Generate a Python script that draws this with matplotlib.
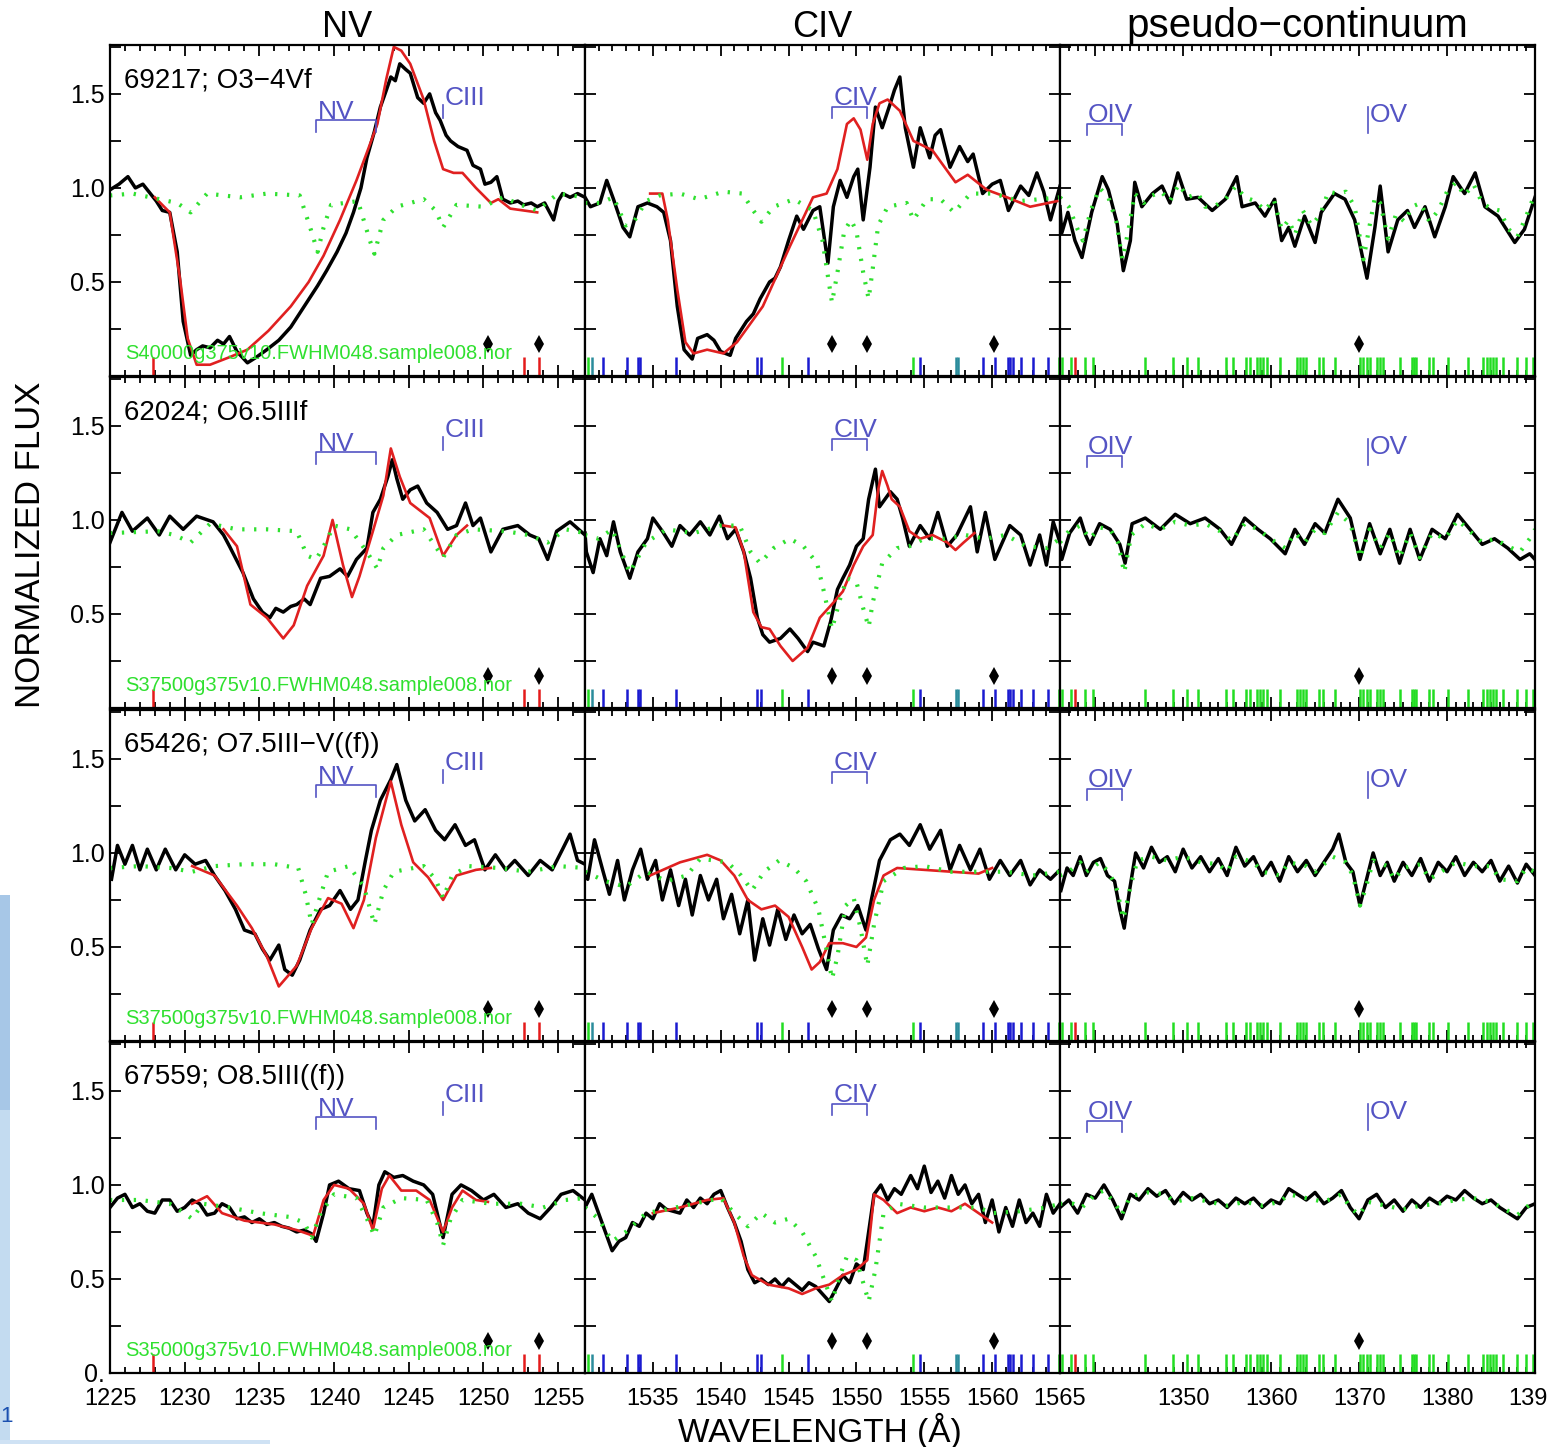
import numpy as np
import matplotlib
matplotlib.use("Agg")
import matplotlib.pyplot as plt
from matplotlib.patches import Rectangle
from matplotlib.ticker import MultipleLocator, FixedLocator

# ---------------- data (wavelength, normalized flux) ----------------
# row 1: 69217
nv1_obs = [(1225.0, 0.99), (1225.6, 1.02), (1226.2, 1.06), (1226.7, 1.00), (1227.2, 1.02), (1227.7, 0.97),
           (1228.1, 0.93), (1228.5, 0.88), (1229.0, 0.87), (1229.5, 0.66), (1229.9, 0.29), (1230.4, 0.11),
           (1230.8, 0.14), (1231.2, 0.16), (1231.7, 0.15), (1232.2, 0.19), (1232.6, 0.17), (1233.0, 0.21),
           (1233.5, 0.13), (1234.2, 0.07), (1234.8, 0.10), (1235.5, 0.14), (1236.3, 0.19), (1237.1, 0.26),
           (1238.0, 0.37), (1238.9, 0.48), (1239.5, 0.56), (1240.2, 0.66), (1240.8, 0.76), (1241.3, 0.87),
           (1241.8, 1.00), (1242.2, 1.16), (1242.7, 1.30), (1243.1, 1.43), (1243.5, 1.52), (1243.8, 1.59),
           (1244.1, 1.57), (1244.4, 1.66), (1244.8, 1.63), (1245.1, 1.61), (1245.6, 1.48), (1246.0, 1.45),
           (1246.4, 1.50), (1246.8, 1.40), (1247.1, 1.36), (1247.5, 1.28), (1247.8, 1.25), (1248.3, 1.22),
           (1248.9, 1.20), (1249.3, 1.12), (1249.8, 1.10), (1250.1, 1.02), (1250.5, 1.03), (1250.9, 1.06),
           (1251.3, 0.94), (1251.8, 0.92), (1252.3, 0.93), (1252.7, 0.91), (1253.2, 0.92), (1253.6, 0.90),
           (1254.1, 0.92), (1254.7, 0.83), (1255.0, 0.93), (1255.3, 0.97), (1255.8, 0.95), (1256.3, 0.97),
           (1256.8, 0.95)]
nv1_mod = [(1228.0, 0.95), (1229.0, 0.87), (1229.7, 0.51), (1230.2, 0.20), (1230.8, 0.06), (1231.7, 0.06),
           (1233.0, 0.10), (1234.2, 0.14), (1235.6, 0.24), (1237.1, 0.37), (1238.3, 0.50), (1239.3, 0.64),
           (1240.4, 0.83), (1241.5, 1.04), (1242.3, 1.21), (1242.9, 1.34), (1243.5, 1.58), (1244.0, 1.75),
           (1244.5, 1.73), (1245.1, 1.66), (1246.0, 1.47), (1246.7, 1.25), (1247.3, 1.10), (1248.0, 1.08),
           (1248.6, 1.08), (1249.5, 1.00), (1250.5, 0.92), (1251.0, 0.94), (1251.8, 0.89), (1253.6, 0.87)]
nv1_syn = [(1225.0, 0.96), (1226.5, 0.97), (1228.3, 0.94), (1229.5, 0.92), (1230.4, 0.87), (1231.5, 0.97),
           (1233.7, 0.95), (1235.5, 0.97), (1237.7, 0.96), (1238.4, 0.79), (1238.9, 0.66), (1239.3, 0.79),
           (1239.8, 0.91), (1241.6, 0.93), (1242.4, 0.72), (1242.7, 0.65), (1243.3, 0.83), (1244.2, 0.90),
           (1246.0, 0.94), (1246.8, 0.88), (1247.3, 0.79), (1248.2, 0.91), (1250.0, 0.90), (1251.3, 0.95),
           (1252.5, 0.91), (1253.6, 0.88), (1255.0, 0.97), (1256.8, 0.95)]

civ1_obs = [(1530.0, 0.95), (1530.4, 0.90), (1531.1, 0.92), (1531.6, 1.04), (1532.1, 0.94), (1532.8, 0.79),
            (1533.3, 0.74), (1533.9, 0.90), (1534.6, 0.92), (1535.3, 0.90), (1535.8, 0.87), (1536.3, 0.72),
            (1536.8, 0.37), (1537.3, 0.14), (1537.9, 0.09), (1538.3, 0.20), (1539.0, 0.22), (1539.5, 0.19),
            (1540.0, 0.13), (1540.7, 0.11), (1541.1, 0.20), (1541.9, 0.29), (1542.4, 0.33), (1542.9, 0.41),
            (1543.6, 0.50), (1544.0, 0.52), (1544.4, 0.58), (1545.0, 0.72), (1545.6, 0.85), (1546.1, 0.78),
            (1546.8, 0.88), (1547.3, 0.90), (1547.9, 0.60), (1548.3, 0.90), (1548.8, 1.04), (1549.3, 0.95),
            (1549.8, 1.06), (1550.1, 1.10), (1550.5, 0.83), (1551.0, 1.11), (1551.4, 1.43), (1551.9, 1.32),
            (1552.5, 1.45), (1552.8, 1.52), (1553.2, 1.59), (1553.6, 1.32), (1554.2, 1.11), (1554.7, 1.32),
            (1555.4, 1.16), (1555.8, 1.28), (1556.2, 1.31), (1556.9, 1.11), (1557.6, 1.22), (1558.2, 1.14),
            (1558.6, 1.18), (1559.3, 0.97), (1560.0, 1.02), (1560.6, 1.04), (1561.2, 0.88), (1562.1, 1.01),
            (1562.7, 0.96), (1563.3, 1.08), (1563.8, 0.98), (1564.3, 0.83), (1565.0, 1.01)]
civ1_mod = [(1534.8, 0.97), (1535.7, 0.97), (1536.1, 0.83), (1536.8, 0.46), (1537.4, 0.18), (1538.0, 0.12),
            (1539.0, 0.14), (1540.2, 0.12), (1541.2, 0.18), (1543.1, 0.37), (1545.1, 0.69), (1546.8, 0.95),
            (1547.8, 0.97), (1548.6, 1.10), (1549.3, 1.34), (1549.8, 1.37), (1550.3, 1.31), (1550.8, 1.15),
            (1551.2, 1.34), (1551.7, 1.45), (1552.3, 1.47), (1553.2, 1.41), (1554.2, 1.25), (1555.6, 1.20),
            (1557.3, 1.03), (1558.2, 1.07), (1559.6, 0.99), (1561.1, 0.95), (1562.8, 0.90), (1564.8, 0.93)]
civ1_syn = [(1530.0, 0.92), (1531.1, 0.92), (1532.1, 0.95), (1533.0, 0.80), (1533.6, 0.82), (1534.5, 0.93),
            (1535.5, 0.96), (1537.0, 0.97), (1538.4, 0.94), (1540.2, 0.98), (1541.6, 0.97), (1542.4, 0.88),
            (1543.0, 0.82), (1543.9, 0.90), (1545.4, 0.94), (1546.8, 0.88), (1547.5, 0.72), (1547.9, 0.53),
            (1548.2, 0.39), (1548.6, 0.55), (1549.1, 0.77), (1549.6, 0.83), (1550.0, 0.77), (1550.5, 0.55),
            (1550.9, 0.41), (1551.2, 0.57), (1551.6, 0.80), (1552.3, 0.90), (1553.7, 0.92), (1554.2, 0.83),
            (1555.2, 0.94), (1556.2, 0.94), (1557.2, 0.87), (1558.4, 0.97), (1560.1, 0.97), (1562.0, 0.93),
            (1565.0, 0.95)]

pc1_obs = [(1336.0, 0.90), (1336.2, 0.76), (1336.9, 0.87), (1337.7, 0.72), (1338.5, 0.63), (1339.6, 0.87),
           (1340.8, 1.06), (1341.5, 0.99), (1342.5, 0.81), (1343.2, 0.56), (1344.0, 0.72), (1344.5, 1.03),
           (1345.3, 0.90), (1346.5, 0.97), (1347.6, 1.01), (1348.5, 0.92), (1349.4, 1.08), (1350.4, 0.94),
           (1351.7, 0.95), (1353.3, 0.88), (1354.8, 0.94), (1356.1, 1.06), (1356.7, 0.90), (1358.2, 0.92),
           (1359.3, 0.85), (1360.4, 0.94), (1361.2, 0.72), (1362.0, 0.79), (1362.7, 0.69), (1363.8, 0.85),
           (1365.0, 0.71), (1365.7, 0.87), (1367.2, 0.97), (1368.4, 0.94), (1369.5, 0.83), (1370.9, 0.52),
           (1371.8, 0.79), (1372.4, 1.01), (1373.3, 0.66), (1374.4, 0.83), (1375.5, 0.88), (1376.3, 0.79),
           (1377.5, 0.90), (1378.6, 0.74), (1379.8, 0.90), (1380.7, 1.06), (1382.0, 0.97), (1383.2, 1.08),
           (1384.3, 0.90), (1385.8, 0.85), (1387.7, 0.71), (1388.8, 0.78), (1390.0, 0.95)]
pc1_syn = [(1336.0, 0.95), (1337.0, 0.90), (1338.0, 0.78), (1338.6, 0.72), (1339.5, 0.88), (1340.5, 1.00),
           (1341.5, 0.95), (1342.4, 0.82), (1343.1, 0.62), (1343.8, 0.78), (1344.5, 0.97), (1345.5, 0.92),
           (1346.5, 0.96), (1347.5, 0.98), (1348.5, 0.93), (1349.5, 1.02), (1350.5, 0.95), (1351.7, 0.97),
           (1352.5, 0.90), (1353.5, 0.90), (1354.8, 0.94), (1356.0, 1.01), (1357.0, 0.95), (1358.2, 0.93),
           (1359.3, 0.88), (1360.3, 0.94), (1361.2, 0.78), (1362.0, 0.83), (1362.7, 0.75), (1363.6, 0.88),
           (1364.6, 0.80), (1365.6, 0.86), (1366.5, 0.98), (1367.5, 0.97), (1368.5, 0.98), (1369.5, 0.90),
           (1370.5, 0.62), (1371.2, 0.80), (1371.8, 0.95), (1372.4, 0.92), (1373.3, 0.73), (1374.2, 0.86),
           (1375.2, 0.82), (1376.0, 0.90), (1377.0, 0.92), (1378.0, 0.82), (1379.0, 0.88), (1380.0, 0.98),
           (1381.0, 1.03), (1382.0, 0.96), (1383.0, 1.02), (1384.0, 0.92), (1385.0, 0.89), (1386.0, 0.88),
           (1387.0, 0.78), (1388.0, 0.74), (1389.0, 0.85), (1390.0, 0.97)]

# row 2: 62024
nv2_obs = [(1225.0, 0.88), (1225.8, 1.04), (1226.5, 0.94), (1227.5, 1.01), (1228.3, 0.92), (1229.0, 1.02),
           (1229.9, 0.95), (1230.8, 1.02), (1231.9, 0.99), (1232.6, 0.92), (1233.0, 0.86), (1233.9, 0.72),
           (1234.6, 0.58), (1235.2, 0.51), (1235.7, 0.48), (1236.1, 0.53), (1236.6, 0.51), (1237.1, 0.54),
           (1237.5, 0.55), (1238.0, 0.58), (1238.4, 0.55), (1239.1, 0.69), (1239.7, 0.70), (1240.4, 0.74),
           (1240.9, 0.70), (1241.5, 0.79), (1242.2, 0.85), (1242.6, 1.04), (1243.1, 1.11), (1243.6, 1.23),
           (1243.9, 1.32), (1244.2, 1.22), (1244.6, 1.11), (1245.1, 1.16), (1245.6, 1.18), (1246.2, 1.09),
           (1246.9, 1.04), (1247.6, 0.95), (1248.2, 0.97), (1248.8, 1.09), (1249.3, 0.97), (1249.8, 1.01),
           (1250.5, 0.83), (1251.3, 0.95), (1252.3, 0.97), (1253.1, 0.92), (1253.7, 0.90), (1254.3, 0.79),
           (1254.9, 0.94), (1255.8, 0.99), (1256.8, 0.92)]
nv2_mod = [(1232.6, 0.95), (1233.5, 0.86), (1234.4, 0.55), (1235.5, 0.48), (1236.6, 0.37), (1237.3, 0.44),
           (1238.2, 0.65), (1239.3, 0.81), (1239.9, 1.00), (1240.6, 0.76), (1241.2, 0.59), (1241.7, 0.70),
           (1242.6, 0.94), (1243.3, 1.13), (1243.8, 1.38), (1244.4, 1.23), (1245.1, 1.09), (1246.4, 1.01),
           (1247.3, 0.81), (1248.2, 0.92), (1248.9, 0.97)]
nv2_syn = [(1225.0, 0.93), (1228.2, 0.94), (1229.3, 0.92), (1230.4, 0.88), (1231.7, 0.98), (1233.5, 0.95),
           (1235.5, 0.95), (1237.5, 0.94), (1238.2, 0.81), (1238.8, 0.79), (1239.3, 0.86), (1240.0, 0.97),
           (1241.1, 0.95), (1242.2, 0.83), (1242.9, 0.74), (1243.3, 0.85), (1244.2, 0.92), (1246.0, 0.95),
           (1247.3, 0.80), (1248.2, 0.92), (1249.3, 0.95), (1251.5, 0.94), (1253.0, 0.92), (1254.3, 0.88),
           (1255.5, 0.95), (1256.8, 0.93)]

civ2_obs = [(1530.0, 0.93), (1530.1, 0.83), (1530.6, 0.72), (1531.1, 0.90), (1531.6, 0.81), (1532.1, 0.99),
            (1532.6, 0.83), (1533.3, 0.69), (1533.9, 0.83), (1534.6, 0.90), (1535.0, 1.01), (1535.7, 0.94),
            (1536.4, 0.86), (1537.0, 0.97), (1537.7, 0.92), (1538.5, 0.99), (1539.2, 0.92), (1539.9, 1.02),
            (1540.5, 0.90), (1541.1, 0.95), (1541.7, 0.83), (1542.2, 0.69), (1542.7, 0.48), (1543.1, 0.39),
            (1543.6, 0.35), (1544.4, 0.37), (1545.1, 0.42), (1545.7, 0.37), (1546.4, 0.30), (1546.8, 0.35),
            (1547.6, 0.33), (1548.1, 0.46), (1548.6, 0.63), (1549.0, 0.69), (1549.5, 0.76), (1550.0, 0.86),
            (1550.5, 0.90), (1550.9, 1.11), (1551.4, 1.27), (1551.7, 1.07), (1552.5, 1.15), (1553.0, 1.11),
            (1553.4, 1.01), (1553.9, 0.86), (1554.7, 0.97), (1555.4, 0.90), (1556.0, 1.04), (1556.7, 0.86),
            (1557.4, 0.92), (1558.4, 1.07), (1558.9, 0.83), (1559.5, 1.04), (1560.2, 0.79), (1561.3, 0.97),
            (1562.1, 0.92), (1562.8, 0.76), (1563.5, 0.92), (1564.0, 0.76), (1564.5, 0.99), (1565.0, 0.88)]
civ2_mod = [(1540.2, 0.97), (1541.1, 0.96), (1541.7, 0.83), (1542.4, 0.51), (1543.0, 0.43), (1543.6, 0.42),
            (1544.4, 0.33), (1545.3, 0.25), (1546.4, 0.32), (1547.3, 0.48), (1548.3, 0.56), (1549.0, 0.62),
            (1549.8, 0.76), (1550.5, 0.86), (1551.2, 0.92), (1551.6, 1.16), (1551.9, 1.26), (1552.3, 1.18),
            (1552.6, 1.11), (1553.2, 1.07), (1553.9, 0.94), (1554.7, 0.90), (1555.6, 0.92), (1556.7, 0.88),
            (1557.3, 0.84), (1557.9, 0.88), (1558.7, 0.93)]
civ2_syn = [(1530.0, 0.92), (1531.0, 0.90), (1532.0, 0.95), (1533.3, 0.72), (1534.5, 0.88), (1536.0, 0.95),
            (1538.0, 0.93), (1540.0, 0.97), (1541.4, 0.97), (1542.2, 0.83), (1542.9, 0.77), (1543.9, 0.85),
            (1545.1, 0.90), (1546.1, 0.86), (1547.1, 0.77), (1547.6, 0.62), (1548.2, 0.42), (1548.8, 0.58),
            (1549.3, 0.69), (1550.0, 0.67), (1550.5, 0.53), (1550.9, 0.43), (1551.2, 0.56), (1551.9, 0.77),
            (1553.0, 0.85), (1553.9, 0.86), (1555.0, 0.90), (1556.5, 0.90), (1558.0, 0.92), (1559.5, 0.90),
            (1561.0, 0.92), (1562.5, 0.86), (1564.0, 0.85), (1565.0, 0.90)]

pc2_obs = [(1336.0, 0.85), (1336.2, 0.79), (1337.1, 0.93), (1338.3, 1.01), (1338.9, 0.92), (1339.4, 0.87),
           (1340.5, 0.98), (1341.7, 0.95), (1342.8, 0.87), (1343.4, 0.77), (1344.2, 0.98), (1345.7, 1.01),
           (1347.4, 0.95), (1349.1, 1.03), (1350.8, 0.98), (1352.5, 1.01), (1354.2, 0.95), (1355.5, 0.87),
           (1357.0, 1.01), (1358.5, 0.95), (1359.9, 0.90), (1361.6, 0.82), (1362.7, 0.95), (1363.8, 0.87),
           (1365.0, 0.98), (1366.1, 0.93), (1367.6, 1.11), (1369.0, 1.01), (1370.1, 0.79), (1371.2, 0.98),
           (1372.4, 0.82), (1373.5, 0.95), (1374.6, 0.77), (1375.8, 0.95), (1376.9, 0.79), (1378.3, 0.95),
           (1379.8, 0.90), (1381.2, 1.03), (1382.6, 0.95), (1384.0, 0.87), (1385.4, 0.90), (1386.9, 0.85),
           (1388.3, 0.79), (1389.4, 0.82), (1390.0, 0.79)]
pc2_syn = [(1336.0, 0.88), (1337.0, 0.94), (1338.3, 0.97), (1339.4, 0.90), (1340.5, 0.96), (1341.7, 0.95),
           (1342.6, 0.88), (1343.3, 0.72), (1344.1, 0.92), (1345.7, 0.98), (1347.4, 0.95), (1349.1, 0.99),
           (1350.8, 0.97), (1352.5, 0.98), (1354.2, 0.94), (1355.5, 0.89), (1357.0, 0.98), (1358.5, 0.95),
           (1359.9, 0.90), (1361.6, 0.85), (1362.7, 0.93), (1363.8, 0.88), (1365.0, 0.95), (1366.1, 0.93),
           (1367.6, 1.04), (1369.0, 0.98), (1370.1, 0.80), (1371.2, 0.95), (1372.4, 0.85), (1373.5, 0.93),
           (1374.6, 0.80), (1375.8, 0.93), (1376.9, 0.80), (1378.3, 0.93), (1379.8, 0.90), (1381.2, 1.00),
           (1382.6, 0.94), (1384.0, 0.88), (1385.4, 0.90), (1386.9, 0.86), (1388.3, 0.83), (1389.4, 0.90),
           (1390.0, 0.95)]

# row 3: 65426
nv3_obs = [(1225.1, 0.86), (1225.5, 1.04), (1226.0, 0.94), (1226.5, 1.04), (1227.0, 0.91), (1227.5, 1.02),
           (1228.1, 0.91), (1228.7, 1.02), (1229.4, 0.91), (1230.0, 0.99), (1230.7, 0.94), (1231.4, 0.96),
           (1232.0, 0.88), (1232.7, 0.80), (1233.4, 0.70), (1234.0, 0.59), (1234.7, 0.57), (1235.2, 0.49),
           (1235.7, 0.43), (1236.3, 0.51), (1236.7, 0.38), (1237.2, 0.35), (1237.7, 0.43), (1238.4, 0.59),
           (1239.1, 0.70), (1239.7, 0.72), (1240.4, 0.80), (1241.1, 0.70), (1241.6, 0.75), (1242.1, 0.96),
           (1242.5, 1.12), (1243.1, 1.28), (1243.8, 1.39), (1244.2, 1.47), (1244.8, 1.28), (1245.4, 1.17),
           (1246.1, 1.23), (1246.8, 1.12), (1247.4, 1.07), (1248.1, 1.15), (1248.8, 1.04), (1249.4, 1.07),
           (1250.1, 0.91), (1250.8, 0.99), (1251.5, 0.91), (1252.1, 0.96), (1253.0, 0.88), (1253.8, 0.96),
           (1254.6, 0.91), (1255.3, 1.02), (1255.8, 1.10), (1256.3, 0.96), (1256.8, 0.94)]
nv3_mod = [(1230.5, 0.93), (1232.0, 0.88), (1233.5, 0.72), (1234.5, 0.60), (1235.5, 0.45), (1236.3, 0.29),
           (1237.5, 0.40), (1238.5, 0.60), (1239.6, 0.76), (1240.5, 0.73), (1241.3, 0.60), (1242.0, 0.75),
           (1242.8, 1.08), (1243.8, 1.38), (1244.5, 1.15), (1245.3, 0.95), (1246.3, 0.87), (1247.3, 0.75),
           (1248.2, 0.88), (1249.5, 0.91), (1250.5, 0.92)]
nv3_syn = [(1225.0, 0.92), (1227.0, 0.93), (1229.0, 0.92), (1230.5, 0.90), (1232.0, 0.93), (1234.0, 0.94),
           (1236.0, 0.94), (1237.6, 0.92), (1238.1, 0.78), (1238.5, 0.62), (1239.0, 0.75), (1239.6, 0.90),
           (1241.0, 0.93), (1242.0, 0.82), (1242.7, 0.62), (1243.3, 0.80), (1244.0, 0.90), (1246.0, 0.93),
           (1246.8, 0.86), (1247.3, 0.76), (1247.9, 0.88), (1249.0, 0.93), (1251.0, 0.92), (1253.0, 0.90),
           (1255.0, 0.93), (1256.8, 0.92)]

civ3_obs = [(1530.0, 0.88), (1530.2, 0.86), (1530.7, 1.07), (1531.3, 0.91), (1531.8, 0.78), (1532.4, 0.96),
            (1532.9, 0.75), (1533.5, 0.91), (1534.1, 1.02), (1534.6, 0.86), (1535.2, 0.96), (1535.7, 0.75),
            (1536.3, 0.91), (1536.9, 0.72), (1537.4, 0.86), (1537.9, 0.67), (1538.5, 0.88), (1539.1, 0.75),
            (1539.7, 0.86), (1540.2, 0.65), (1540.8, 0.78), (1541.4, 0.57), (1542.0, 0.75), (1542.5, 0.43),
            (1543.1, 0.65), (1543.6, 0.51), (1544.2, 0.70), (1544.8, 0.54), (1545.4, 0.67), (1546.0, 0.57),
            (1546.6, 0.62), (1547.2, 0.49), (1547.8, 0.38), (1548.3, 0.59), (1548.9, 0.67), (1549.5, 0.65),
            (1550.1, 0.72), (1550.7, 0.59), (1551.1, 0.75), (1551.7, 0.96), (1552.5, 1.07), (1553.2, 1.10),
            (1553.9, 1.04), (1554.7, 1.15), (1555.4, 1.02), (1556.2, 1.12), (1556.9, 0.91), (1557.6, 1.04),
            (1558.4, 0.91), (1559.1, 1.02), (1559.8, 0.86), (1560.6, 0.96), (1561.3, 0.88), (1562.1, 0.96),
            (1562.8, 0.83), (1563.5, 0.91), (1564.3, 0.86), (1565.0, 0.91)]
civ3_mod = [(1534.8, 0.88), (1537.0, 0.95), (1539.0, 0.99), (1540.0, 0.96), (1541.0, 0.88), (1542.0, 0.75),
            (1543.0, 0.70), (1544.0, 0.72), (1545.0, 0.66), (1546.0, 0.50), (1546.7, 0.38), (1547.3, 0.42),
            (1548.0, 0.52), (1549.0, 0.52), (1550.0, 0.50), (1550.7, 0.55), (1551.3, 0.75), (1552.0, 0.88),
            (1553.0, 0.92), (1555.0, 0.91), (1557.0, 0.90), (1559.0, 0.89), (1560.0, 0.92)]
civ3_syn = [(1530.0, 0.90), (1531.5, 0.85), (1533.0, 0.82), (1534.5, 0.90), (1536.0, 0.85), (1537.5, 0.88),
            (1538.5, 0.97), (1540.5, 0.95), (1541.5, 0.88), (1542.3, 0.80), (1543.2, 0.90), (1544.3, 0.96),
            (1545.4, 0.92), (1546.3, 0.85), (1547.2, 0.70), (1547.9, 0.45), (1548.2, 0.33), (1548.6, 0.45),
            (1549.2, 0.72), (1549.8, 0.76), (1550.3, 0.60), (1550.8, 0.40), (1551.3, 0.62), (1552.0, 0.85),
            (1553.5, 0.92), (1555.0, 0.93), (1557.0, 0.90), (1559.0, 0.90), (1561.0, 0.90), (1563.0, 0.88),
            (1565.0, 0.90)]

pc3_obs = [(1336.1, 0.80), (1336.8, 0.92), (1337.5, 0.88), (1338.3, 0.98), (1339.0, 0.88), (1339.8, 0.95),
           (1340.6, 0.97), (1341.4, 0.88), (1342.2, 0.85), (1342.8, 0.70), (1343.3, 0.60), (1343.9, 0.80),
           (1344.6, 1.00), (1345.5, 0.92), (1346.4, 1.03), (1347.3, 0.95), (1348.2, 0.98), (1349.1, 0.90),
           (1350.0, 1.02), (1351.0, 0.92), (1352.0, 0.98), (1353.0, 0.90), (1354.0, 0.97), (1355.0, 0.88),
           (1356.0, 1.03), (1357.0, 0.93), (1358.0, 0.98), (1359.0, 0.88), (1360.0, 0.95), (1361.0, 0.85),
           (1362.0, 0.98), (1363.0, 0.90), (1364.0, 0.96), (1365.0, 0.88), (1366.0, 0.95), (1367.0, 1.02),
           (1367.7, 1.10), (1368.5, 0.95), (1369.3, 0.90), (1370.1, 0.72), (1370.8, 0.85), (1371.6, 1.00),
           (1372.4, 0.88), (1373.2, 0.95), (1374.0, 0.85), (1375.0, 0.95), (1376.0, 0.88), (1377.0, 0.97),
           (1378.0, 0.85), (1379.0, 0.95), (1380.0, 0.90), (1381.0, 0.98), (1382.0, 0.88), (1383.0, 0.95),
           (1384.0, 0.90), (1385.0, 0.96), (1386.0, 0.85), (1387.0, 0.93), (1388.0, 0.84), (1389.0, 0.94),
           (1390.0, 0.88)]
pc3_syn = [(1336.0, 0.88), (1337.0, 0.90), (1338.3, 0.95), (1339.0, 0.90), (1340.5, 0.95), (1341.5, 0.90),
           (1342.4, 0.82), (1343.2, 0.65), (1344.0, 0.82), (1344.8, 0.96), (1346.4, 0.98), (1348.2, 0.96),
           (1350.0, 0.98), (1352.0, 0.95), (1354.0, 0.94), (1355.0, 0.90), (1356.0, 0.98), (1358.0, 0.95),
           (1359.0, 0.90), (1361.0, 0.88), (1362.0, 0.95), (1364.0, 0.93), (1365.0, 0.90), (1367.0, 0.98),
           (1368.5, 0.95), (1369.3, 0.88), (1370.1, 0.72), (1370.8, 0.82), (1371.6, 0.96), (1373.2, 0.93),
           (1374.0, 0.86), (1375.0, 0.92), (1377.0, 0.94), (1378.0, 0.86), (1380.0, 0.92), (1381.0, 0.95),
           (1383.0, 0.93), (1385.0, 0.93), (1386.0, 0.86), (1388.0, 0.85), (1389.0, 0.92), (1390.0, 0.90)]

# row 4: 67559
nv4_obs = [(1225.0, 0.88), (1225.5, 0.93), (1226.0, 0.95), (1226.5, 0.88), (1227.0, 0.90), (1227.5, 0.86),
           (1228.0, 0.85), (1228.5, 0.92), (1229.0, 0.92), (1229.5, 0.86), (1230.0, 0.88), (1230.5, 0.92),
           (1231.0, 0.90), (1231.5, 0.84), (1232.0, 0.85), (1232.5, 0.90), (1233.0, 0.88), (1233.5, 0.82),
           (1234.0, 0.83), (1234.5, 0.80), (1235.0, 0.82), (1235.5, 0.79), (1236.0, 0.80), (1236.5, 0.78),
           (1237.0, 0.77), (1237.5, 0.75), (1238.0, 0.76), (1238.5, 0.74), (1238.8, 0.70), (1239.3, 0.85),
           (1239.7, 1.00), (1240.3, 1.02), (1241.0, 0.98), (1241.7, 0.97), (1242.2, 0.85), (1242.6, 0.78),
           (1243.0, 1.00), (1243.4, 1.07), (1244.0, 1.04), (1244.6, 1.05), (1245.3, 1.02), (1246.0, 1.00),
           (1246.6, 0.95), (1247.3, 0.72), (1247.9, 0.95), (1248.5, 1.00), (1249.2, 0.97), (1250.0, 0.92),
           (1250.7, 0.95), (1251.5, 0.88), (1252.3, 0.90), (1253.0, 0.85), (1253.8, 0.82), (1254.5, 0.88),
           (1255.2, 0.95), (1256.0, 0.97), (1256.8, 0.92)]
nv4_mod = [(1230.5, 0.90), (1231.5, 0.94), (1232.5, 0.85), (1234.0, 0.81), (1236.0, 0.79), (1237.5, 0.76),
           (1238.6, 0.73), (1239.3, 0.92), (1240.0, 1.00), (1241.0, 0.98), (1242.0, 0.90), (1242.6, 0.76),
           (1243.2, 0.98), (1243.7, 1.05), (1244.5, 0.97), (1245.5, 0.97), (1246.4, 0.92), (1247.3, 0.75),
           (1247.9, 0.88), (1248.6, 0.97), (1249.5, 0.92), (1250.3, 0.91)]
nv4_syn = [(1225.0, 0.92), (1227.0, 0.92), (1229.0, 0.90), (1229.8, 0.86), (1230.5, 0.82), (1231.2, 0.90),
           (1233.0, 0.88), (1235.0, 0.85), (1237.0, 0.83), (1238.0, 0.80), (1238.5, 0.72), (1239.1, 0.85),
           (1240.0, 0.95), (1241.5, 0.93), (1242.2, 0.82), (1242.7, 0.73), (1243.3, 0.88), (1244.5, 0.93),
           (1246.2, 0.92), (1246.9, 0.80), (1247.3, 0.68), (1247.8, 0.82), (1248.6, 0.92), (1250.5, 0.90),
           (1252.5, 0.90), (1254.0, 0.88), (1255.5, 0.92), (1256.8, 0.93)]

civ4_obs = [(1530.0, 0.88), (1530.5, 0.95), (1531.0, 0.85), (1531.5, 0.75), (1532.0, 0.65), (1532.5, 0.70),
            (1533.0, 0.72), (1533.5, 0.80), (1534.0, 0.78), (1534.5, 0.85), (1535.0, 0.82), (1535.5, 0.90),
            (1536.0, 0.87), (1537.0, 0.85), (1537.5, 0.92), (1538.0, 0.88), (1538.5, 0.93), (1539.0, 0.90),
            (1539.5, 0.95), (1540.0, 0.97), (1540.5, 0.88), (1541.0, 0.80), (1541.5, 0.70), (1542.0, 0.55),
            (1542.5, 0.48), (1543.0, 0.50), (1543.5, 0.47), (1544.0, 0.50), (1544.5, 0.46), (1545.0, 0.50),
            (1545.5, 0.47), (1546.0, 0.44), (1546.5, 0.48), (1547.0, 0.46), (1547.5, 0.42), (1548.0, 0.38),
            (1548.5, 0.45), (1549.0, 0.52), (1549.5, 0.48), (1550.0, 0.58), (1550.5, 0.55), (1551.0, 0.80),
            (1551.3, 0.95), (1551.8, 1.00), (1552.3, 0.92), (1552.8, 0.98), (1553.3, 0.95), (1554.0, 1.05),
            (1554.5, 0.98), (1555.0, 1.10), (1555.5, 0.96), (1556.0, 1.02), (1556.5, 0.93), (1557.0, 1.05),
            (1557.5, 0.95), (1558.0, 1.00), (1558.5, 0.90), (1559.0, 0.95), (1559.5, 0.80), (1560.0, 0.92),
            (1560.5, 0.75), (1561.0, 0.88), (1561.5, 0.78), (1562.0, 0.92), (1562.5, 0.80), (1563.0, 0.85),
            (1563.5, 0.78), (1564.0, 0.95), (1564.5, 0.85), (1565.0, 0.90)]
civ4_mod = [(1535.0, 0.85), (1537.0, 0.88), (1539.0, 0.92), (1540.2, 0.93), (1541.0, 0.80), (1541.7, 0.62),
            (1542.3, 0.52), (1543.5, 0.47), (1545.0, 0.45), (1546.0, 0.42), (1547.0, 0.45), (1548.0, 0.47),
            (1549.0, 0.52), (1550.0, 0.55), (1550.8, 0.60), (1551.3, 0.95), (1552.0, 0.92), (1553.0, 0.85),
            (1554.0, 0.88), (1555.0, 0.86), (1556.0, 0.88), (1557.0, 0.86), (1558.0, 0.90), (1559.0, 0.85),
            (1560.0, 0.80)]
civ4_syn = [(1530.0, 0.88), (1531.0, 0.82), (1532.0, 0.70), (1533.0, 0.75), (1534.5, 0.85), (1536.0, 0.87),
            (1538.0, 0.90), (1540.0, 0.93), (1541.0, 0.85), (1542.0, 0.78), (1543.0, 0.85), (1544.0, 0.80),
            (1545.0, 0.82), (1546.0, 0.75), (1547.0, 0.62), (1547.7, 0.48), (1548.2, 0.38), (1548.7, 0.50),
            (1549.3, 0.62), (1550.0, 0.60), (1550.5, 0.48), (1550.9, 0.38), (1551.4, 0.55), (1552.0, 0.85),
            (1553.0, 0.90), (1555.0, 0.88), (1557.0, 0.88), (1559.0, 0.88), (1560.0, 0.85), (1562.0, 0.86),
            (1564.0, 0.88), (1565.0, 0.90)]

pc4_obs = [(1336.0, 0.88), (1337.0, 0.92), (1338.0, 0.85), (1339.0, 0.95), (1340.0, 0.93), (1341.0, 1.00),
           (1342.0, 0.92), (1343.0, 0.82), (1344.0, 0.95), (1345.0, 0.92), (1346.0, 0.98), (1347.0, 0.94),
           (1348.0, 0.97), (1349.0, 0.90), (1350.0, 0.96), (1351.0, 0.92), (1352.0, 0.95), (1353.0, 0.90),
           (1354.0, 0.92), (1355.0, 0.88), (1356.0, 0.93), (1357.0, 0.90), (1358.0, 0.93), (1359.0, 0.88),
           (1360.0, 0.92), (1361.0, 0.90), (1362.0, 0.98), (1363.0, 0.95), (1364.0, 0.92), (1365.0, 0.96),
           (1366.0, 0.90), (1367.0, 0.93), (1368.0, 0.97), (1369.0, 0.88), (1370.0, 0.82), (1371.0, 0.92),
           (1372.0, 0.95), (1373.0, 0.88), (1374.0, 0.92), (1375.0, 0.86), (1376.0, 0.92), (1377.0, 0.88),
           (1378.0, 0.93), (1379.0, 0.90), (1380.0, 0.94), (1381.0, 0.92), (1382.0, 0.97), (1383.0, 0.93),
           (1384.0, 0.90), (1385.0, 0.92), (1386.0, 0.88), (1387.0, 0.85), (1388.0, 0.82), (1389.0, 0.88),
           (1390.0, 0.90)]
pc4_syn = [(1336.0, 0.90), (1337.5, 0.90), (1338.5, 0.88), (1340.0, 0.95), (1341.0, 0.97), (1342.3, 0.90),
           (1343.0, 0.84), (1344.0, 0.94), (1346.0, 0.96), (1348.0, 0.95), (1349.0, 0.91), (1351.0, 0.93),
           (1353.0, 0.91), (1355.0, 0.89), (1357.0, 0.91), (1359.0, 0.89), (1361.0, 0.91), (1362.0, 0.95),
           (1364.0, 0.93), (1366.0, 0.91), (1368.0, 0.95), (1369.0, 0.88), (1370.0, 0.84), (1371.0, 0.91),
           (1373.0, 0.89), (1375.0, 0.87), (1377.0, 0.89), (1379.0, 0.90), (1381.0, 0.92), (1383.0, 0.93),
           (1385.0, 0.91), (1387.0, 0.86), (1388.0, 0.84), (1389.0, 0.88), (1390.0, 0.92)]

star_labels = ["69217; O3\u22124Vf", "62024; O6.5IIIf", "65426; O7.5III\u2212V((f))", "67559; O8.5III((f))"]
model_labels = ["S40000g375v10.FWHM048.sample008.nor", "S37500g375v10.FWHM048.sample008.nor",
                "S37500g375v10.FWHM048.sample008.nor", "S35000g375v10.FWHM048.sample008.nor"]
col_titles = ["NV", "CIV", "pseudo\u2212continuum"]

# line id marks along the bottom of each panel
nv_mark_wl = [1227.9, 1252.7, 1253.7]
nv_mark_col = ["r", "r", "r"]
civ_mark_wl = [1530.2, 1530.5, 1531.3, 1533.1, 1533.9, 1534.05, 1536.7, 1542.7, 1543.0, 1544.5, 1546.4,
               1554.2, 1554.7, 1557.3, 1557.5, 1559.3, 1560.2, 1561.2, 1561.35, 1561.5, 1562.1, 1563.0,
               1564.1, 1564.95]
civ_mark_col = ["g", "t", "b", "b", "b", "b", "b", "b", "b", "g", "b",
                "g", "b", "t", "t", "b", "b", "b", "b", "b", "b", "b",
                "b", "g"]
pc_mark_wl = [1336.2, 1337.3, 1337.7, 1338.8, 1339.8, 1345.7, 1348.9, 1350.4, 1351.7, 1354.9, 1355.7,
              1357.2, 1357.6, 1358.4, 1358.7, 1359.1, 1359.5, 1361.0, 1362.9, 1363.3, 1363.6, 1364.0,
              1365.5, 1365.9, 1367.3, 1370.1, 1370.5, 1370.9, 1371.2, 1372.0, 1372.4, 1372.7, 1374.6,
              1376.0, 1376.3, 1376.5, 1378.0, 1378.4, 1380.1, 1382.4, 1384.1, 1384.5, 1384.9, 1385.2,
              1385.6, 1386.4, 1387.9, 1389.0, 1389.8]
pc_mark_col = ["g"] * len(pc_mark_wl)
pc_mark_col[2] = "r"

nv_diamonds = [1250.3, 1253.7]
civ_diamonds = [1548.2, 1550.8, 1560.1]
pc_diamonds = [1370.0]

panels = [
    [(nv1_obs, nv1_mod, nv1_syn), (civ1_obs, civ1_mod, civ1_syn), (pc1_obs, None, pc1_syn)],
    [(nv2_obs, nv2_mod, nv2_syn), (civ2_obs, civ2_mod, civ2_syn), (pc2_obs, None, pc2_syn)],
    [(nv3_obs, nv3_mod, nv3_syn), (civ3_obs, civ3_mod, civ3_syn), (pc3_obs, None, pc3_syn)],
    [(nv4_obs, nv4_mod, nv4_syn), (civ4_obs, civ4_mod, civ4_syn), (pc4_obs, None, pc4_syn)],
]

# ---------------- styling ----------------
BLUE = "#5454c4"
GREEN = "#2fe02f"
MARK_COLORS = {"r": "#e41a1a", "g": "#22dd22", "b": "#1a1ad0", "t": "#2a8c9c"}

W, H = 1547, 1447
col_x = [110, 585, 1060]
row_y = [45, 377, 710, 1042]
PW, PH = 475, 331

col_cfg = [
    dict(xlim=(1225, 1256.8), major=5, minor=1, labels=[1225, 1230, 1235, 1240, 1245, 1250, 1255],
         marks=(nv_mark_wl, nv_mark_col), diamonds=nv_diamonds),
    dict(xlim=(1530, 1565), major=5, minor=1, labels=[1535, 1540, 1545, 1550, 1555, 1560, 1565],
         marks=(civ_mark_wl, civ_mark_col), diamonds=civ_diamonds),
    dict(xlim=(1336, 1390), major=10, minor=1, labels=[1350, 1360, 1370, 1380, 1390],
         marks=(pc_mark_wl, pc_mark_col), diamonds=pc_diamonds),
]

plt.rcParams["font.family"] = ["Liberation Sans", "DejaVu Sans"]
fig = plt.figure(figsize=(W / 100, H / 100), dpi=100)


def bracket(ax, x0, x1, y, drop):
    ax.plot([x0, x0, x1, x1], [y - drop, y, y, y - drop], color=BLUE, lw=1.2)


def annotate(ax, c):
    fs = 19
    if c == 0:
        bracket(ax, 1238.8, 1242.8, 1.36, 0.06)
        ax.text(1238.9, 1.365, "NV", color=BLUE, fontsize=fs, va="baseline")
        ax.plot([1247.3, 1247.3], [1.37, 1.44], color=BLUE, lw=1.2)
        ax.text(1247.4, 1.44, "CIII", color=BLUE, fontsize=fs, va="baseline")
    elif c == 1:
        bracket(ax, 1548.2, 1550.8, 1.43, 0.06)
        ax.text(1548.3, 1.44, "CIV", color=BLUE, fontsize=fs, va="baseline")
    else:
        bracket(ax, 1339.1, 1343.0, 1.34, 0.06)
        ax.text(1339.1, 1.35, "OIV", color=BLUE, fontsize=fs, va="baseline")
        ax.plot([1371.0, 1371.0], [1.29, 1.43], color=BLUE, lw=1.2)
        ax.text(1371.2, 1.35, "OV", color=BLUE, fontsize=fs, va="baseline")


for r in range(4):
    for c in range(3):
        cfg = col_cfg[c]
        ax = fig.add_axes([col_x[c] / W, 1 - (row_y[r] + PH) / H, PW / W, PH / H])
        obs, mod, syn = panels[r][c]

        ow, of = np.array(obs).T
        ax.plot(ow, of, color="k", lw=2.5, solid_joinstyle="round")
        if mod is not None:
            mw, mf = np.array(mod).T
            ax.plot(mw, mf, color="#e02020", lw=1.9)
        sw, sf = np.array(syn).T
        ax.plot(sw, sf, color=GREEN, lw=3.0, linestyle=(0, (0.55, 2.3)), dash_capstyle="butt")

        wl, cols = cfg["marks"]
        ax.vlines(wl, 0, 0.10, colors=[MARK_COLORS[k] for k in cols], lw=1.8)
        ax.plot(cfg["diamonds"], [0.17] * len(cfg["diamonds"]), "kd", ms=9, mew=0)

        annotate(ax, c)
        if c == 0:
            ax.text(0.03, 0.873, star_labels[r], transform=ax.transAxes, fontsize=20, va="baseline")
            ax.text(0.032, 0.05, model_labels[r], transform=ax.transAxes, fontsize=14.5,
                    color=GREEN, va="baseline")

        ax.set_xlim(*cfg["xlim"])
        ax.set_ylim(0, 1.76)
        ax.xaxis.set_major_locator(MultipleLocator(cfg["major"]))
        ax.xaxis.set_minor_locator(MultipleLocator(cfg["minor"]))
        ax.yaxis.set_major_locator(FixedLocator([0.0, 0.25, 0.5, 0.75, 1.0, 1.25, 1.5, 1.75]))
        ax.tick_params(which="both", direction="in", top=True, right=True, width=1.3, labelsize=18)
        ax.tick_params(axis="x", labelsize=17)
        ax.tick_params(which="major", length=8)
        ax.tick_params(which="minor", length=4)
        for s in ax.spines.values():
            s.set_linewidth(1.6)

        if c == 0:
            ylab = {0.5: "0.5", 1.0: "1.0", 1.5: "1.5"}
            if r == 3:
                ylab[0.0] = "0."
            ax.set_yticklabels([ylab.get(v, "") for v in ax.get_yticks()])
        else:
            ax.set_yticklabels([])
        if r == 3:
            ticks = ax.get_xticks()
            ax.set_xticklabels([str(int(round(t))) if int(round(t)) in cfg["labels"] else "" for t in ticks])
            ax.tick_params(axis="x", pad=11)
        else:
            ax.set_xticklabels([])
        if r == 0:
            ax.set_title(col_titles[c], fontsize=29 if c == 2 else 26, pad=3)

fig.text(0.02, 1 - 545 / H, "NORMALIZED FLUX", rotation=90, fontsize=25,
         ha="center", va="center")
fig.text(820 / W, 1 - 1431 / H, "WAVELENGTH (\u00c5)", fontsize=24, ha="center", va="center")

# screenshot edge remnants on the left border
fig.add_artist(Rectangle((0, 1 - 1110 / H), 10 / W, 215 / H, transform=fig.transFigure,
                         color="#a7c7e7", lw=0))
fig.add_artist(Rectangle((0, 1 - 1440 / H), 10 / W, 330 / H, transform=fig.transFigure,
                         color="#c3dbf0", lw=0))
fig.add_artist(Rectangle((0, 1 - 1444 / H), 270 / W, 4 / H, transform=fig.transFigure,
                         color="#cfe2f4", lw=0))
fig.text(0.0, 1 - 1416 / H, "1", color="#1a50b0", fontsize=16, va="center")

fig.savefig("out.png", dpi=100)
